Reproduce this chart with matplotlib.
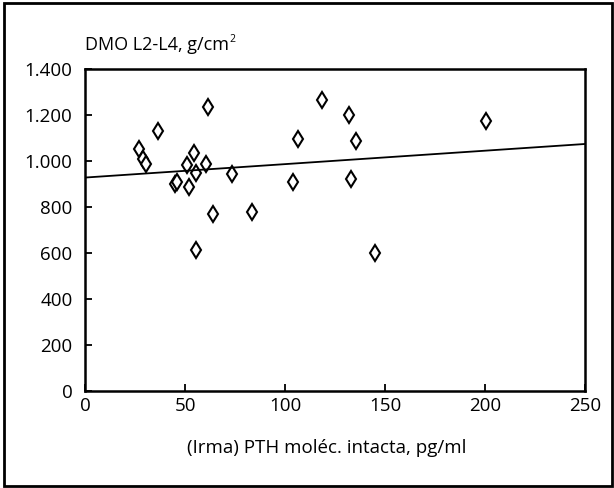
import matplotlib
matplotlib.use("Agg")
import matplotlib.pyplot as plt
from matplotlib.patches import Rectangle

# Data
pth = [61.3, 36.3, 27.2, 29.2, 30.3, 54.3, 51.0, 60.3, 55.7, 73.3, 45.2, 46.2,
       52.2, 64.0, 83.3, 55.3, 118.3, 132.2, 106.5, 135.3, 200.3, 104.2, 133.2, 145.0]
dmo = [1236, 1130, 1053, 1009, 986, 1035, 981, 986, 949, 943, 899, 909,
       887, 770, 778, 613, 1265, 1200, 1094, 1088, 1172, 907, 920, 601]
fit_x = [0, 250]
fit_y = [928, 1074]

x_ticks = [0, 50, 100, 150, 200, 250]
y_ticks = [0, 200, 400, 600, 800, 1000, 1200, 1400]
y_tick_labels = ["0", "200", "400", "600", "800", "1.000", "1.200", "1.400"]

title = "DMO L2-L4, g/cm"
title_sup = "2"
xlabel = "(Irma) PTH moléc. intacta, pg/ml"

plt.rcParams['font.family'] = ['Open Sans', 'DejaVu Sans']

W, H = 614, 488
fig = plt.figure(figsize=(W / 100, H / 100), dpi=100)
fig.patch.set_facecolor("white")

# outer frame
fig.add_artist(Rectangle((4 / W, 2 / H), 608 / W, 483 / H, transform=fig.transFigure,
                         fill=False, edgecolor="black", linewidth=2.0))

ax = fig.add_axes([85 / W, (H - 391) / H, 500 / W, 322 / H])
ax.plot(pth, dmo, linestyle="none", marker="d", markersize=8,
        markerfacecolor="white", markeredgecolor="black", markeredgewidth=1.5)
ax.plot(fit_x, fit_y, color="black", linewidth=1.3)

ax.set_xlim(0, 250)
ax.set_ylim(0, 1400)
ax.set_xticks(x_ticks)
ax.set_xticklabels([str(v) for v in x_ticks])
ax.set_yticks(y_ticks)
ax.set_yticklabels(y_tick_labels)
ax.tick_params(direction="in", length=5, width=1.3, labelsize=13.5, pad=4, colors="black")
ax.tick_params(axis="y", pad=9)
for s in ax.spines.values():
    s.set_linewidth(1.8)

ax.set_xlabel(xlabel, fontsize=13.5)
ax.xaxis.set_label_coords(0.484, -0.15)
t = ax.text(0.0, 1.075, title, transform=ax.transAxes, fontsize=13, ha="left", va="center")
fig.canvas.draw()
bb = t.get_window_extent()
fig.text((bb.x1 + 0.5) / W, (bb.y1 - 9) / H, title_sup, fontsize=7.5, ha="left", va="bottom")

fig.savefig("out.png", dpi=100)
